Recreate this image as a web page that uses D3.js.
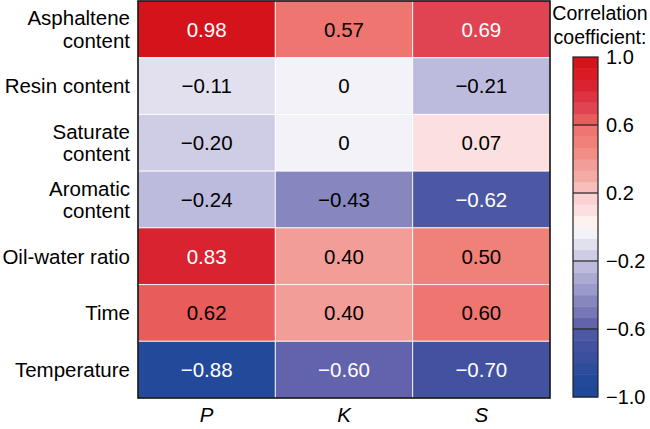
<!DOCTYPE html>
<html>
<head>
<meta charset="utf-8">
<script src="https://cdn.jsdelivr.net/npm/d3@7"></script>
<style>
  body { margin: 0; background: #fff; }
  svg { font-family: "Liberation Sans", Arial, sans-serif; }
</style>
</head>
<body>
<svg width="650" height="429"></svg>
<script>
// dati
const columns = ["P", "K", "S"];
const rowLabels = [
  ["Asphaltene", "content"],
  ["Resin content"],
  ["Saturate", "content"],
  ["Aromatic", "content"],
  ["Oil-water ratio"],
  ["Time"],
  ["Temperature"]
];
const valuesP = [0.98, -0.11, -0.20, -0.24, 0.83, 0.62, -0.88];
const valuesK = [0.57, 0, 0, -0.43, 0.40, 0.40, -0.60];
const valuesS = [0.69, -0.21, 0.07, -0.62, 0.50, 0.60, -0.70];
const barTicks = [1.0, 0.6, 0.2, -0.2, -0.6, -1.0];

// krāsu palete (30 soļi no -1 līdz 1)
const palette = [
  "#1f4898", "#234a9a", "#2d4c9c", "#3a4f9e", "#4352a0", "#4c58a4",
  "#6363ad", "#7777b7", "#8787c0", "#9b9acb", "#abaad3", "#bdbbdd",
  "#cfcce5", "#e2e0ef", "#f3f2f8", "#fdf2f0", "#fce0e0", "#fad2d2",
  "#f7bebb", "#f4aba6", "#f29d97", "#f18e86", "#f08178", "#ef7670",
  "#e85c5c", "#e04453", "#dc3340", "#d92330", "#d81b25", "#d5131b"
];

const nBins = palette.length;
const step = 2 / nBins;
// robežvērtības pieskaita tuvāk nullei esošajam solim
const binOf = (v) => {
  const t = (v + 1) / step;
  const b = v >= 0 ? Math.ceil(t - 1e-9) - 1 : Math.floor(t + 1e-9);
  return Math.max(0, Math.min(nBins - 1, b));
};
const color = (v) => palette[binOf(v)];

const cells = [];
rowLabels.forEach((r, i) => {
  [valuesP, valuesK, valuesS].forEach((vals, j) => {
    cells.push({ row: i, col: columns[j], value: vals[i] });
  });
});

const svg = d3.select("svg");

const x = d3.scaleBand().domain(columns).range([138, 550]);
const y = d3.scaleBand().domain(d3.range(rowLabels.length)).range([1, 398]);

// šūnas
svg.append("g")
  .selectAll("rect")
  .data(cells)
  .enter()
  .append("rect")
  .attr("x", (d) => x(d.col))
  .attr("y", (d) => y(d.row))
  .attr("width", x.bandwidth())
  .attr("height", y.bandwidth())
  .attr("fill", (d) => color(d.value))
  .attr("stroke", "rgba(255,255,255,0.8)")
  .attr("stroke-width", 1);

const fmt = (v) => (v === 0 ? "0" : d3.format(".2f")(v));

svg.append("g")
  .selectAll("text")
  .data(cells)
  .enter()
  .append("text")
  .attr("x", (d) => x(d.col) + x.bandwidth() / 2)
  .attr("y", (d) => y(d.row) + y.bandwidth() / 2)
  .attr("dy", "0.36em")
  .attr("text-anchor", "middle")
  .attr("font-size", 20.5)
  .attr("fill", (d) => (binOf(d.value) <= 6 || binOf(d.value) >= 25 ? "#fff" : "#000"))
  .text((d) => fmt(d.value));

// ārējā rāmja līnija
svg.append("rect")
  .attr("x", 138).attr("y", 1)
  .attr("width", 412).attr("height", 397)
  .attr("fill", "none")
  .attr("stroke", "#000")
  .attr("stroke-width", 1.5);

// rindu nosaukumi
const rowG = svg.append("g")
  .selectAll("text")
  .data(rowLabels)
  .enter()
  .append("text")
  .attr("text-anchor", "end")
  .attr("font-size", 20.5)
  .attr("fill", "#000");

rowG.selectAll("tspan")
  .data((d, i) => d.map((line, k) => ({ line, k, n: d.length, i })))
  .enter()
  .append("tspan")
  .attr("x", 130)
  .attr("y", (d) => y(d.i) + y.bandwidth() / 2 + (d.k - (d.n - 1) / 2) * 22.5)
  .attr("dy", "0.36em")
  .text((d) => d.line);

// kolonnu nosaukumi
svg.append("g")
  .selectAll("text")
  .data(columns)
  .enter()
  .append("text")
  .attr("x", (d) => x(d) + x.bandwidth() / 2)
  .attr("y", 422)
  .attr("text-anchor", "middle")
  .attr("font-size", 20.5)
  .attr("font-style", "italic")
  .text((d) => d);

// krāsu skala
const cb = d3.scaleLinear().domain([-1, 1]).range([397, 57]);
const cbX = 573, cbW = 25;
const bins = d3.range(nBins).map((i) => ({ lo: -1 + i * step, hi: -1 + (i + 1) * step, c: palette[i] }));

svg.append("g")
  .selectAll("rect")
  .data(bins)
  .enter()
  .append("rect")
  .attr("x", cbX)
  .attr("y", (d) => cb(d.hi))
  .attr("width", cbW)
  .attr("height", (d) => cb(d.lo) - cb(d.hi) + 0.5)
  .attr("fill", (d) => d.c);

svg.append("g")
  .selectAll("line")
  .data(barTicks.filter((t) => Math.abs(t) < 1))
  .enter()
  .append("line")
  .attr("x1", cbX).attr("x2", cbX + cbW)
  .attr("y1", (d) => cb(d)).attr("y2", (d) => cb(d))
  .attr("stroke", "#222")
  .attr("stroke-width", 1.2);

svg.append("rect")
  .attr("x", cbX).attr("y", cb(1))
  .attr("width", cbW).attr("height", cb(-1) - cb(1))
  .attr("fill", "none")
  .attr("stroke", "#222")
  .attr("stroke-width", 1.2);

const axis = d3.axisRight(cb)
  .tickValues(barTicks)
  .tickSize(0)
  .tickPadding(0)
  .tickFormat(d3.format(".1f"));

const axG = svg.append("g")
  .attr("transform", `translate(${cbX + cbW + 8},0)`)
  .call(axis);
axG.select(".domain").remove();
axG.selectAll("text")
  .attr("font-size", 20)
  .attr("font-family", "Liberation Sans, Arial, sans-serif")
  .attr("fill", "#000");

// krāsu skalas virsraksts
svg.append("text")
  .attr("x", 600)
  .attr("text-anchor", "middle")
  .attr("font-size", 19.5)
  .selectAll("tspan")
  .data(["Correlation", "coefficient:"])
  .enter()
  .append("tspan")
  .attr("x", 600)
  .attr("y", (d, i) => 20 + i * 23.5)
  .text((d) => d);
</script>
</body>
</html>
